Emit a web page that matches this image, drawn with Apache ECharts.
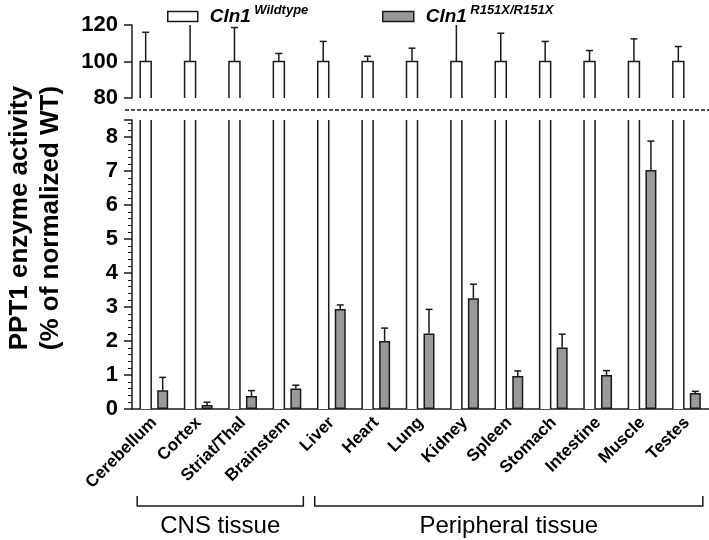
<!DOCTYPE html>
<html>
<head>
<meta charset="utf-8">
<script src="https://cdn.jsdelivr.net/npm/echarts@6/dist/echarts.min.js"></script>
<style>
html,body{margin:0;padding:0;background:#fff;}
#chart{width:709px;height:540px;}
</style>
</head>
<body>
<div id="chart"></div>
<script>
// ---- data ----
const categories = ['Cerebellum','Cortex','Striat/Thal','Brainstem','Liver','Heart','Lung','Kidney','Spleen','Stomach','Intestine','Muscle','Testes'];
const wtMean = [100,100,100,100,100,100,100,100,100,100,100,100,100];
const wtErr  = [16, 25, 18.6, 4.4, 11, 2.9, 7.3, 25, 15.5, 11, 6, 12.4, 8.2];
const mutMean = [0.55, 0.12, 0.38, 0.6, 2.94, 2.0, 2.22, 3.26, 0.97, 1.81, 1.0, 7.03, 0.47];
const mutErr  = [0.38, 0.08, 0.16, 0.1, 0.12, 0.38, 0.71, 0.41, 0.15, 0.39, 0.13, 0.85, 0.05];
const topTicks = [80, 100, 120];
const groups = [
  {label: 'CNS tissue', from: 0, to: 3},
  {label: 'Peripheral tissue', from: 4, to: 12}
];

// ---- styles ----
const FONT = "'Liberation Sans', Arial, sans-serif";
const INK = '#1a1a1a';
const BAR_W = 11, BAR_GAP = 6;
const WT_OFF = -(BAR_W + BAR_GAP) / 2, MUT_OFF = (BAR_W + BAR_GAP) / 2;

const chart = echarts.init(document.getElementById('chart'), null, {renderer: 'canvas'});

function outlineItem(offset) {
  return function (params, api) {
    const i = api.value(0), v = api.value(1);
    const cs = params.coordSys;
    const p = api.coord([i, v]);
    const cx = p[0] + offset;
    const bottom = cs.y + cs.height;
    const clipped = p[1] < cs.y;
    const top = Math.max(p[1], cs.y);
    if (top >= bottom) return null;
    const x0 = cx - BAR_W / 2, x1 = cx + BAR_W / 2;
    const style = {stroke: INK, lineWidth: 1.5, fill: null};
    if (clipped) {
      return {type: 'group', children: [
        {type: 'line', shape: {x1: x0, y1: bottom, x2: x0, y2: top}, style: style},
        {type: 'line', shape: {x1: x1, y1: bottom, x2: x1, y2: top}, style: style}
      ]};
    }
    return {type: 'polyline', shape: {points: [[x0, bottom], [x0, top], [x1, top], [x1, bottom]]}, style: style};
  };
}

function errorItem(offset) {
  return function (params, api) {
    const i = api.value(0), m = api.value(1), e = api.value(2);
    const cs = params.coordSys;
    const b = api.coord([i, m]);
    const h = api.coord([i, m + e]);
    const bottom = cs.y + cs.height;
    if (b[1] < cs.y || b[1] > bottom) return null;
    const cx = b[0] + offset;
    const capped = h[1] >= cs.y;
    const top = Math.max(h[1], cs.y);
    const style = {stroke: INK, lineWidth: 1.5};
    const children = [{type: 'line', shape: {x1: cx, y1: b[1], x2: cx, y2: top}, style: style}];
    if (capped) children.push({type: 'line', shape: {x1: cx - 3.5, y1: top, x2: cx + 3.5, y2: top}, style: style});
    return {type: 'group', children: children};
  };
}

const legendRich = {
  a: {fontFamily: FONT, fontSize: 19, fontWeight: 'bold', fontStyle: 'italic', color: '#000', padding: [0, 0, 0, 7]},
  b: {fontFamily: FONT, fontSize: 13, fontWeight: 'bold', fontStyle: 'italic', color: '#000', padding: [0, 0, 12, 0]}
};

const option = {
  animation: false,
  backgroundColor: '#fff',
  legend: [
    {left: 167, top: 4, padding: 0, itemWidth: 30, itemHeight: 10, itemGap: 0, selectedMode: false,
     data: [{name: 'WT', icon: 'rect', itemStyle: {color: '#fff', borderColor: INK, borderWidth: 1.5}}],
     formatter: () => '{a|Cln1} {b|Wildtype}', textStyle: {rich: legendRich}},
    {left: 382, top: 4, padding: 0, itemWidth: 31, itemHeight: 10, itemGap: 0, selectedMode: false,
     data: [{name: 'R151X', icon: 'rect', itemStyle: {color: '#999', borderColor: INK, borderWidth: 1.5}}],
     formatter: () => '{a|Cln1} {b|R151X/R151X}', textStyle: {rich: legendRich}}
  ],
  grid: [
    {left: 132, width: 579, top: 25, height: 73},
    {left: 132, width: 579, top: 120, height: 289}
  ],
  xAxis: [
    {gridIndex: 0, type: 'category', data: categories, show: false},
    {gridIndex: 1, type: 'category', data: categories,
     axisLine: {lineStyle: {color: INK, width: 1.5}},
     axisTick: {alignWithLabel: true, length: 8, interval: 0, lineStyle: {color: INK, width: 1.5}},
     axisLabel: {interval: 0, rotate: 45, margin: 11, fontFamily: FONT, fontSize: 17, fontWeight: 'bold', color: '#000'}}
  ],
  yAxis: [
    {gridIndex: 0, type: 'value', min: topTicks[0], max: topTicks[topTicks.length - 1], interval: 20,
     splitLine: {show: false},
     axisLine: {show: true, lineStyle: {color: INK, width: 1.5}},
     axisTick: {show: true, length: 8, lineStyle: {color: INK, width: 1.5}},
     axisLabel: {margin: 14, fontFamily: FONT, fontSize: 22, fontWeight: 'bold', color: '#000'}},
    {gridIndex: 1, type: 'value', min: 0, max: 8.5, interval: 1,
     splitLine: {show: false},
     axisLine: {show: true, lineStyle: {color: INK, width: 1.5}},
     axisTick: {show: true, length: 8, lineStyle: {color: INK, width: 1.5}},
     minorTick: {show: true, splitNumber: 5, length: 4, lineStyle: {color: INK, width: 1}},
     axisLabel: {margin: 14, showMaxLabel: false, fontFamily: FONT, fontSize: 22, fontWeight: 'bold', color: '#000'}}
  ],
  series: [
    {name: 'WT', type: 'bar', xAxisIndex: 1, yAxisIndex: 1, data: wtMean, barWidth: BAR_W, barGap: (BAR_GAP / BAR_W * 100) + '%',
     itemStyle: {color: '#fff', borderWidth: 0}, z: 1},
    {name: 'R151X', type: 'bar', xAxisIndex: 1, yAxisIndex: 1, data: mutMean, barWidth: BAR_W,
     itemStyle: {color: '#999', borderColor: INK, borderWidth: 1.5}, z: 2},
    {type: 'custom', xAxisIndex: 0, yAxisIndex: 0, renderItem: outlineItem(WT_OFF),
     data: wtMean.map((v, i) => [i, v]), z: 3},
    {type: 'custom', xAxisIndex: 1, yAxisIndex: 1, renderItem: outlineItem(WT_OFF),
     data: wtMean.map((v, i) => [i, v]), z: 3},
    {type: 'custom', xAxisIndex: 0, yAxisIndex: 0, renderItem: errorItem(WT_OFF),
     data: wtMean.map((v, i) => [i, v, wtErr[i]]), z: 4},
    {type: 'custom', xAxisIndex: 1, yAxisIndex: 1, renderItem: errorItem(MUT_OFF),
     data: mutMean.map((v, i) => [i, v, mutErr[i]]), z: 4}
  ]
};
chart.setOption(option);

// ---- annotations: axis title, break line, group brackets ----
const graphics = [];
graphics.push({
  type: 'text', x: 35, y: 218, rotation: Math.PI / 2,
  style: {text: 'PPT1 enzyme activity\n(% of normalized WT)', fontFamily: FONT, fontSize: 26, fontWeight: 'bold',
          lineHeight: 31, fill: '#000', textAlign: 'center', textVerticalAlign: 'middle'}
});
graphics.push({
  type: 'line', shape: {x1: 125, y1: 110, x2: 709, y2: 110},
  style: {stroke: INK, lineWidth: 1.5, lineDash: [4, 2]}
});
groups.forEach(g => {
  const xa = chart.convertToPixel({xAxisIndex: 1}, g.from) - 17;
  const xb = chart.convertToPixel({xAxisIndex: 1}, g.to) + 16;
  const yb = 506;
  graphics.push({type: 'polyline', shape: {points: [[xa, yb - 10], [xa, yb], [xb, yb], [xb, yb - 10]]},
                 style: {stroke: INK, lineWidth: 1.5, fill: null}});
  graphics.push({type: 'text', x: (xa + xb) / 2, y: 526,
                 style: {text: g.label, fontFamily: FONT, fontSize: 24, fill: '#000', textAlign: 'center', textVerticalAlign: 'middle'}});
});
chart.setOption({graphic: graphics});
</script>
</body>
</html>
